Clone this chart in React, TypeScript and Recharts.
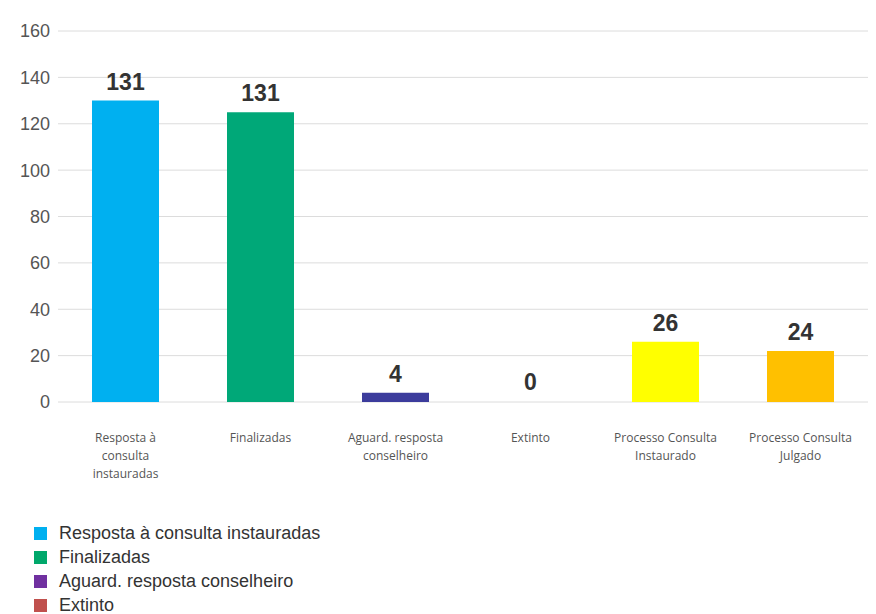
import { Bar, BarChart, CartesianGrid, Cell, LabelList, XAxis, YAxis } from "recharts";

const categories = [
  "Resposta à consulta instauradas",
  "Finalizadas",
  "Aguard. resposta conselheiro",
  "Extinto",
  "Processo Consulta Instaurado",
  "Processo Consulta Julgado",
];

// bar heights as drawn in the picture
const barValues = [130, 125, 4, 0, 26, 22];
// numbers printed above the bars
const barLabels = ["131", "131", "4", "0", "26", "24"];

const tickLines = [
  ["Resposta à", "consulta", "instauradas"],
  ["Finalizadas"],
  ["Aguard. resposta", "conselheiro"],
  ["Extinto"],
  ["Processo Consulta", "Instaurado"],
  ["Processo Consulta", "Julgado"],
];

const yTicks = [0, 20, 40, 60, 80, 100, 120, 140, 160];

const barColors = ["#00B0F0", "#00A878", "#3C3C9C", "#C0504D", "#FFFF00", "#FFC000"];
const legendColors = ["#00B0F0", "#00A86B", "#7030A0", "#C0504D", "#FFFF00", "#FFC000"];

const data = categories.map((name, i) => ({
  name,
  value: barValues[i],
  label: barLabels[i],
}));

function renderCategoryTick(props: any) {
  const { x, y, index } = props;
  const lines = tickLines[index] ?? [];
  return (
    <text
      x={x}
      y={y + 32}
      textAnchor="middle"
      fill="#555"
      fontSize={12}
      fontFamily="'Open Sans', sans-serif"
    >
      {lines.map((line, i) => (
        <tspan key={i} x={x} dy={i === 0 ? 0 : 18}>
          {line}
        </tspan>
      ))}
    </text>
  );
}

export default function App() {
  return (
    <div style={{ width: 862, fontFamily: "'Liberation Sans', Arial, sans-serif" }}>
      <BarChart
        width={862}
        height={480}
        data={data}
        margin={{ top: 23, right: 2, bottom: 0, left: 0 }}
        barSize={67}
      >
        <CartesianGrid vertical={false} stroke="#dcdcdc" />
        <XAxis
          dataKey="name"
          axisLine={false}
          tickLine={false}
          interval={0}
          height={86}
          tick={renderCategoryTick}
        />
        <YAxis
          width={50}
          domain={[0, 160]}
          ticks={yTicks}
          axisLine={false}
          tickLine={false}
          tick={{ fill: "#555", fontSize: 18, fontFamily: "'Liberation Sans', Arial, sans-serif" }}
        />
        <Bar dataKey="value" minPointSize={1} isAnimationActive={false}>
          {data.map((d, i) => (
            <Cell key={d.name} fill={barColors[i]} fillOpacity={d.value === 0 ? 0 : 1} />
          ))}
          <LabelList
            dataKey="label"
            position="top"
            offset={11}
            fill="#333"
            fontSize={23}
            fontWeight="bold"
            fontFamily="'Liberation Sans', Arial, sans-serif"
          />
        </Bar>
      </BarChart>
      <div style={{ paddingTop: 33, paddingLeft: 26 }}>
        {categories.map((name, i) => (
          <div
            key={name}
            style={{ display: "flex", alignItems: "center", height: 24, fontSize: 18, color: "#333" }}
          >
            <span
              style={{
                display: "inline-block",
                width: 13,
                height: 13,
                background: legendColors[i],
                marginRight: 12,
              }}
            />
            {name}
          </div>
        ))}
      </div>
    </div>
  );
}
